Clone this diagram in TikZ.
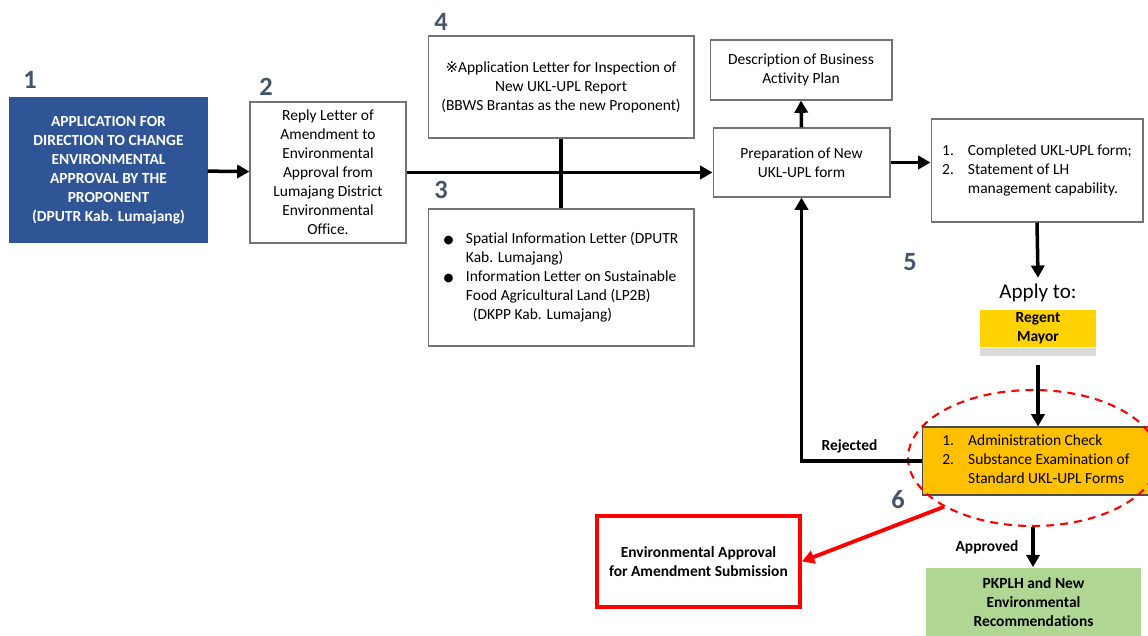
\documentclass[tikz,border=0pt]{standalone}
\usepackage{fontspec}
\setmainfont{Carlito}[Ligatures=NoCommon]
\newfontfamily\symfont{DejaVu Sans}
\usetikzlibrary{arrows.meta,positioning,shapes.geometric}
\definecolor{appblue}{HTML}{2F5597}
\definecolor{numgray}{HTML}{44546A}
\definecolor{checkorange}{HTML}{FFC000}
\definecolor{regentyellow}{HTML}{FFD200}
\definecolor{stripgray}{HTML}{D9D9D9}
\definecolor{okgreen}{HTML}{B0D694}
\definecolor{rejred}{HTML}{FF0000}

\begin{document}
\begin{tikzpicture}[x=0.02cm, y=-0.02cm,
      font=\fontsize{8.8}{10.8}\selectfont,
      box/.style={
        rectangle,
        draw=black!55, line width=0.6pt,
        align=center,
        inner sep=2pt
      },
      arrow/.style={
        -{Triangle[length=7pt,width=7.5pt]},
        line width=2pt
      },
      num/.style={font=\fontsize{15}{15}\selectfont\bfseries, text=numgray},
      tag/.style={font=\fontsize{8.8}{10.8}\selectfont\bfseries}
    ]
      \useasboundingbox (0,0) rectangle (1148,635);

      % left side
      \node[box, fill=appblue, draw=appblue, text=white, font=\fontsize{8.8}{10.8}\selectfont\bfseries,
            minimum width=3.94cm, minimum height=2.88cm] (application) at (108.5,170)
        {APPLICATION FOR\\DIRECTION TO CHANGE\\ENVIRONMENTAL\\APPROVAL BY THE\\PROPONENT\\(DPUTR Kab. Lumajang)};
      \node[box, minimum width=3.12cm, minimum height=2.82cm] (reply) at (328,172.5)
        {Reply Letter of\\Amendment to\\Environmental\\Approval from\\Lumajang District\\Environmental\\Office.};
      \node[box, minimum width=5.32cm, minimum height=2.04cm] (inspection) at (561,87)
        {{\symfont\fontsize{8.5}{8}\selectfont ※}Application Letter for Inspection of\\New UKL-UPL Report\\(BBWS Brantas as the new Proponent)};
      \node[box, minimum width=5.32cm, minimum height=2.74cm] (spatial) at (561,277.5)
        {\begin{tabular}{@{}l@{\hspace{7pt}}l@{}}
          {\symfont\fontsize{6.5}{7}\selectfont ●} & Spatial Information Letter (DPUTR\\
          & Kab. Lumajang)\\
          {\symfont\fontsize{6.5}{7}\selectfont ●} & Information Letter on Sustainable\\
          & Food Agricultural Land (LP2B)\\
          & \ \ (DKPP Kab. Lumajang)
        \end{tabular}};

      % middle
      \node[box, minimum width=3.64cm, minimum height=1.2cm] (description) at (801,70)
        {Description of Business\\Activity Plan};
      \node[box, minimum width=3.54cm, minimum height=1.38cm] (preparation) at (801.5,162.5)
        {Preparation of New\\UKL-UPL form};
      \node[box, minimum width=4.24cm, minimum height=2.06cm] (completed) at (1037,170.5)
        {\begin{tabular}{@{}l@{\hspace{8pt}}l@{}}
          1. & Completed UKL-UPL form;\\
          2. & Statement of LH\\
             & management capability.
        \end{tabular}};

      % right side
      \node[font=\fontsize{12}{12}\selectfont] (applyto) at (1038,293) {Apply to:};
      \node[fill=regentyellow, align=center, inner sep=0pt, font=\fontsize{8.8}{10.8}\selectfont\bfseries,
            minimum width=2.32cm, minimum height=0.74cm] (regent) at (1038,328.5) {Regent\\Mayor};
      \node[fill=stripgray, inner sep=0pt, minimum width=2.32cm, minimum height=0.16cm,
            below=0pt of regent] (strip) {};
      \node[box, fill=checkorange, draw=black!70, minimum width=4.56cm, minimum height=1.36cm] (check) at (1036,461)
        {\begin{tabular}{@{}l@{\hspace{8pt}}l@{}}
          1. & Administration Check\\
          2. & Substance Examination of\\
             & Standard UKL-UPL Forms
        \end{tabular}};
      \node[ellipse, draw=rejred, line width=1.2pt, dash pattern=on 4.5pt off 3.5pt,
            minimum width=5cm, minimum height=2.72cm, inner sep=0pt] (ring) at (1033,458) {};
      \node[box, draw=rejred, line width=2.2pt, font=\fontsize{8.8}{10.8}\selectfont\bfseries,
            minimum width=4.06cm, minimum height=1.82cm] (amendment) at (698.5,561.5)
        {Environmental Approval\\for Amendment Submission};
      \node[fill=okgreen, align=center, font=\fontsize{8.8}{10.8}\selectfont\bfseries,
            minimum width=4.3cm, minimum height=1.38cm] (pkplh) at (1033.5,602)
        {PKPLH and New\\Environmental\\Recommendations};

      % step numbers
      \node[num] (n1) at (30,80) {1};
      \node[num] (n2) at (266,87) {2};
      \node[num] (n3) at (441,190) {3};
      \node[num] (n4) at (441,22) {4};
      \node[num] (n5) at (910,262) {5};
      \node[num] (n6) at (898,500) {6};

      % connectors
      \draw[arrow] (application) -- (reply);
      \draw[line width=2pt] (inspection.south) -- (spatial.north);
      \draw[arrow] (reply.east) -- (reply.east -| preparation.west);
      \draw[arrow] (preparation.north) -- (description.south);
      \draw[arrow] (preparation.east) -- (preparation.east -| completed.west);
      \draw[arrow] (completed.south) -- (applyto.north);
      \draw[arrow, shorten <=5pt] (strip.south) -- (strip.south |- check.north);
      \draw[arrow] (check.west) -| node[tag, above, pos=0.3] {Rejected} (preparation.south);
      \draw[arrow] (ring.south) -- node[tag, left=4pt] {Approved} (ring.south |- pkplh.north);
      \draw[arrow, draw=rejred, line width=2.2pt] (ring.south west) -- (amendment.east);
    \end{tikzpicture}
\end{document}
